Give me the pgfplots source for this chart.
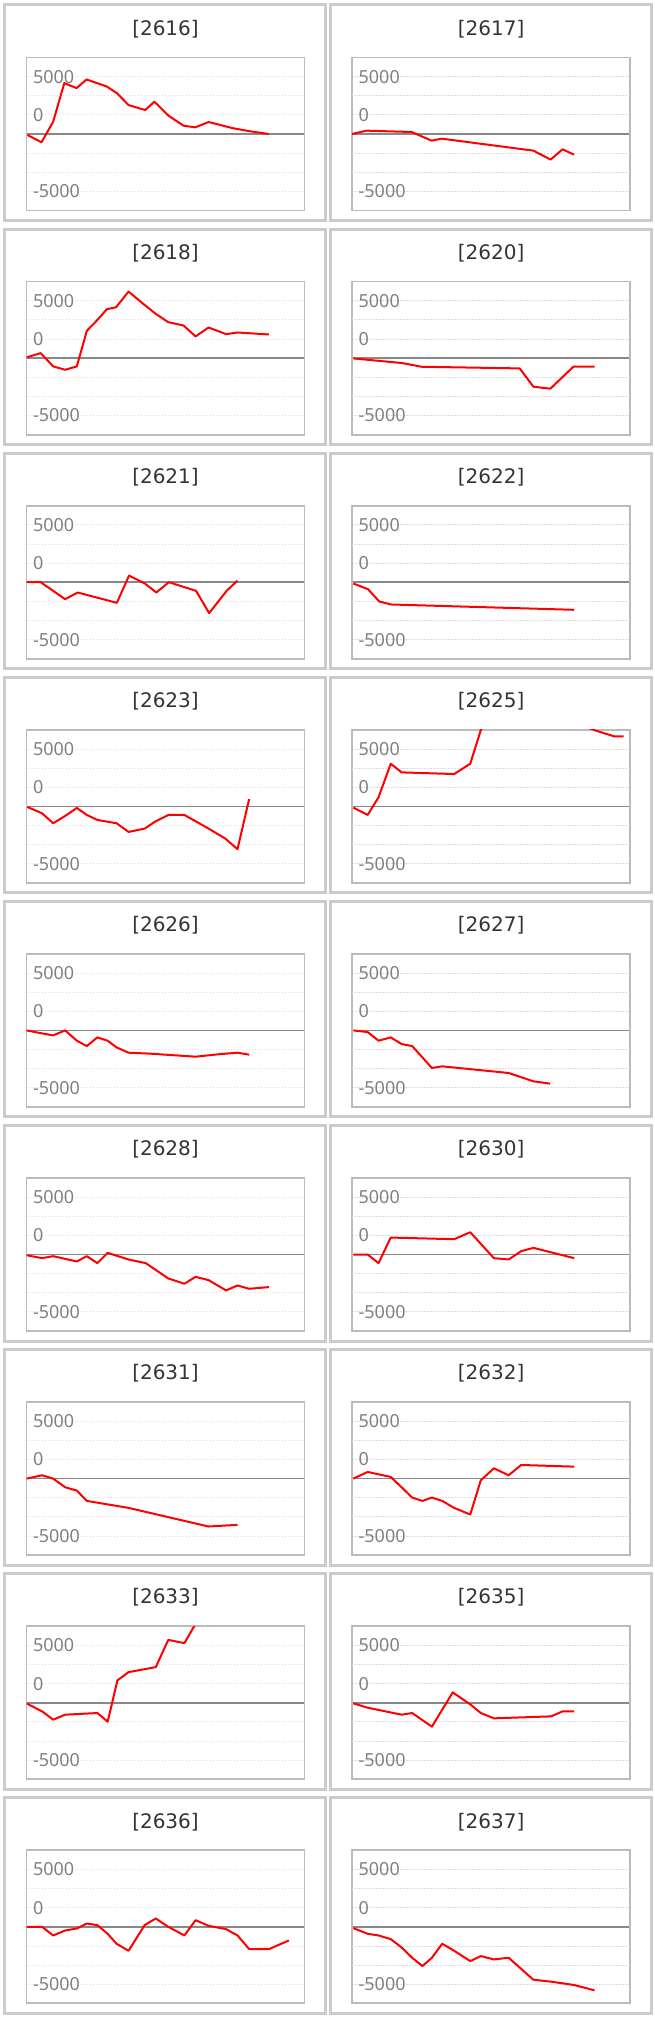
\documentclass[border=0pt]{standalone}
\usepackage{pgfplots}
\pgfplotsset{compat=1.18}
\usepackage{fontspec}
\setmainfont{Noto Sans}
\newfontfamily\titlefamily{DejaVu Sans}
\newcommand{\ticklab}{\fontsize{18}{19}\selectfont}
\newcommand{\titlefont}{\titlefamily\fontsize{20}{22}\selectfont}
\definecolor{boxgray}{HTML}{CCCCCC}
\definecolor{axgray}{HTML}{BBBBBB}
\definecolor{gridgray}{HTML}{DDDDDD}
\definecolor{zerogray}{HTML}{888888}
\definecolor{labgray}{HTML}{808080}
\definecolor{titlecol}{HTML}{333333}
\pgfplotsset{panelstyle/.style={
  anchor=north west, scale only axis, width=278pt, height=153pt,
  xmin=0, xmax=1000, ymin=-10000, ymax=10000,
  axis line style={draw=axgray, line width=1.8pt},
  xtick=\empty,
  ytick={-7500,2500,7500}, yticklabels={-5000,0,5000},
  extra y ticks={-5000,-2500,5000}, extra y tick labels={},
  extra y tick style={grid=major},
  ymajorgrids,
  major grid style={draw=gridgray, dash pattern=on 1.5pt off 1.5pt, line width=0.8pt},
  minor ytick={0}, yminorgrids,
  minor grid style={draw=zerogray, line width=1.6pt, solid},
  major tick length=0pt, minor tick length=0pt,
  yticklabel style={anchor=west, xshift=3pt, font=\ticklab, text=labgray},
  scaled y ticks=false,
  title style={font=\titlefont, text=titlecol, at={(0.5,1)}, anchor=center, yshift=22.5pt},
  clip=true,
}}
\newcommand{\panel}[4]{%
  \pgfmathsetmacro{\PanBX}{#1*325.6}%
  \pgfmathsetmacro{\PanBY}{#2*224.1}%
  \pgfmathsetmacro{\PanAX}{#1*325.6+26.5}%
  \pgfmathsetmacro{\PanAY}{-(#2*224.1+57.5)}%
  \draw[line width=3pt, draw=boxgray] ({\PanBX+4.5},{-\PanBY-5}) rectangle ({\PanBX+325.5},{-\PanBY-220.5});
  \begin{axis}[panelstyle, at={(\PanAX pt,\PanAY pt)}, title={[#3]}]
    \addplot[color=red, line width=2pt, line join=round, mark=none] coordinates {#4};
  \end{axis}%
}
\begin{document}
\begin{tikzpicture}[x=1pt,y=1pt]
\useasboundingbox (0,0) rectangle (655,-2017);
\panel{0}{0}{2616}{(3.6,-130) (54,-1087) (96,1609) (136,6652) (180,6000) (216,7130) (288,6217) (325,5348) (367,3783) (427,3130) (460,4217) (511,2391) (565,1087) (607,870) (655,1565) (745,739) (805,348) (871,0)}
\panel{1}{0}{2617}{(0,0) (52,435) (214,261) (286,-870) (322,-609) (652,-2174) (714,-3348) (757,-2000) (798,-2696)}
\panel{0}{1}{2618}{(0,87) (51,652) (96,-1087) (139,-1522) (181,-1087) (217,3565) (252,4870) (289,6391) (322,6652) (367,8696) (417,7174) (465,5783) (510,4696) (565,4261) (608,2826) (655,4000) (718,3130) (759,3348) (872,3087)}
\panel{1}{1}{2620}{(4.5,-43) (181,-652) (249,-1130) (603,-1348) (652,-3739) (713,-4000) (796,-1130) (872,-1130)}
\panel{0}{2}{2621}{(0,0) (51,0) (139,-2217) (184,-1348) (325,-2696) (369,870) (426,-174) (467,-1348) (512,0) (610,-1130) (657,-4043) (720,-1130) (759,217)}
\panel{1}{2}{2622}{(4.5,-174) (57,-913) (98,-2522) (140,-2913) (799,-3609)}
\panel{0}{3}{2623}{(3,-87) (56,-913) (96,-2217) (139,-1261) (181,-217) (217,-1130) (255,-1783) (324,-2217) (367,-3348) (425,-2913) (465,-1957) (511,-1130) (568,-1130) (655,-2913) (715,-4217) (759,-5609) (801,957)}
\panel{1}{3}{2625}{(4.5,-174) (56,-1130) (95,1174) (139,5565) (178,4435) (367,4217) (425,5565) (465,10200) (510,12000) (568,13000) (608,12500) (655,13500) (718,12000) (759,11500) (801,11000) (872,9950) (944,9130) (977,9130)}
\panel{0}{4}{2626}{(0,0) (56,-391) (96,-652) (139,0) (181,-1348) (217,-2043) (255,-913) (292,-1348) (324,-2217) (367,-2913) (447,-3043) (608,-3435) (688,-3130) (759,-2913) (801,-3174)}
\panel{1}{4}{2627}{(4.5,0) (56,-217) (95,-1348) (139,-913) (178,-1783) (216,-2043) (287,-4913) (324,-4696) (563,-5565) (652,-6652) (712,-6957)}
\panel{0}{5}{2628}{(0,-87) (56,-478) (96,-217) (181,-913) (217,-217) (255,-1130) (292,217) (367,-652) (429,-1130) (510,-3130) (568,-3826) (608,-2913) (655,-3348) (718,-4696) (759,-4043) (801,-4478) (872,-4261)}
\panel{1}{5}{2630}{(4.5,0) (56,0) (95,-1130) (139,2217) (367,2000) (425,2913) (510,-478) (563,-652) (608,435) (652,870) (799,-478)}
\panel{0}{6}{2631}{(0,0) (56,435) (96,0) (139,-1130) (181,-1565) (217,-2913) (367,-3826) (655,-6261) (759,-6043)}
\panel{1}{6}{2632}{(4.5,0) (56,870) (139,217) (178,-1130) (216,-2478) (253,-2913) (287,-2478) (324,-2913) (367,-3826) (425,-4696) (463,-217) (510,1348) (563,435) (608,1783) (799,1565)}
\panel{0}{7}{2633}{(0,-87) (56,-1130) (96,-2217) (139,-1565) (255,-1348) (292,-2478) (327,2913) (367,4000) (465,4652) (510,8217) (568,7783) (608,10300)}
\panel{1}{7}{2635}{(4.5,-87) (56,-652) (178,-1565) (216,-1348) (287,-3130) (362,1348) (425,-217) (463,-1348) (510,-2043) (716,-1783) (757,-1130) (799,-1130)}
\panel{0}{8}{2636}{(0,0) (56,0) (96,-1130) (139,-478) (181,-217) (217,435) (255,217) (292,-913) (324,-2217) (367,-3130) (425,217) (465,1087) (510,0) (568,-1130) (608,870) (655,130) (718,-304) (759,-1130) (801,-2913) (872,-2913) (944,-1783)}
\panel{1}{8}{2637}{(4.5,-174) (56,-913) (95,-1130) (139,-1609) (178,-2696) (216,-4043) (253,-5130) (287,-4043) (324,-2217) (367,-3130) (425,-4478) (463,-3826) (510,-4261) (563,-4043) (652,-6913) (717,-7174) (799,-7609) (872,-8304)}
\end{tikzpicture}
\end{document}
